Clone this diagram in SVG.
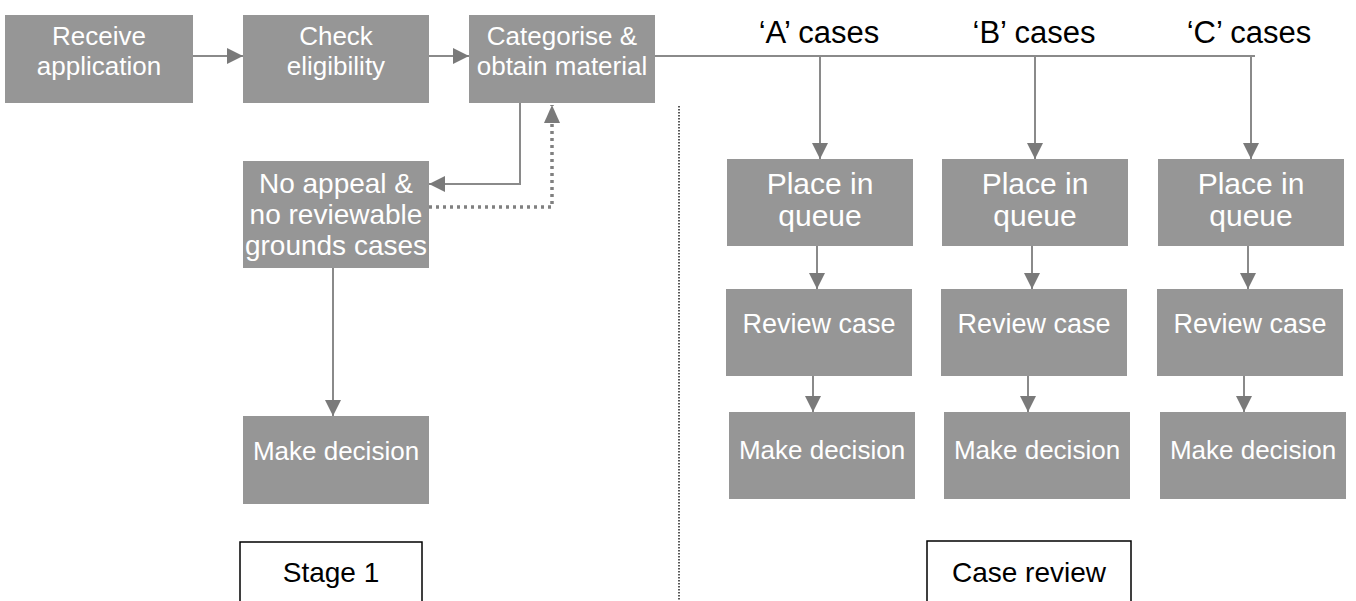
<svg xmlns="http://www.w3.org/2000/svg" width="1356" height="601" viewBox="0 0 1356 601">
<style>
.box{fill:#969696;}
.t{font-family:"Liberation Sans",Arial,sans-serif;fill:#ffffff;text-anchor:middle;}
.lbl{font-family:"Liberation Sans",Arial,sans-serif;fill:#000000;text-anchor:middle;}
.c{fill:none;stroke:#8a8a8a;stroke-width:2;}
.dot{fill:none;stroke:#808080;stroke-width:3.5;stroke-dasharray:3 4;}
.stage{fill:#ffffff;stroke:#000000;stroke-width:1.5;}
</style>
<defs>
<marker id="ah" viewBox="0 0 16 16" refX="16" refY="8" markerWidth="16" markerHeight="16" markerUnits="userSpaceOnUse" orient="auto">
<path d="M0,0 L16,8 L0,16 z" fill="#7a7a7a"/>
</marker>
<marker id="ahd" viewBox="0 0 18 16" refX="18" refY="8" markerWidth="18" markerHeight="16" markerUnits="userSpaceOnUse" orient="auto">
<path d="M0,0 L18,8 L0,16 z" fill="#7a7a7a"/>
</marker>
</defs>

<g id="connectors">
<line class="c" x1="193" y1="56" x2="243" y2="56" marker-end="url(#ah)"/>
<line class="c" x1="429" y1="56" x2="469" y2="56" marker-end="url(#ah)"/>
<path class="c" d="M520,103 V184 H429" marker-end="url(#ah)"/>
<path class="dot" d="M429,207 H552 V105" marker-end="url(#ahd)"/>
<line class="c" x1="333" y1="268" x2="333" y2="416" marker-end="url(#ah)"/>
<line class="c" x1="655" y1="56" x2="1255" y2="56"/>
<line class="c" x1="820" y1="56" x2="820" y2="159" marker-end="url(#ah)"/>
<line class="c" x1="1035" y1="56" x2="1035" y2="159" marker-end="url(#ah)"/>
<line class="c" x1="1251" y1="56" x2="1251" y2="159" marker-end="url(#ah)"/>
<line class="c" x1="817" y1="246" x2="817" y2="289" marker-end="url(#ah)"/>
<line class="c" x1="1032" y1="246" x2="1032" y2="289" marker-end="url(#ah)"/>
<line class="c" x1="1248" y1="246" x2="1248" y2="289" marker-end="url(#ah)"/>
<line class="c" x1="813" y1="376" x2="813" y2="412" marker-end="url(#ah)"/>
<line class="c" x1="1028" y1="376" x2="1028" y2="412" marker-end="url(#ah)"/>
<line class="c" x1="1244" y1="376" x2="1244" y2="412" marker-end="url(#ah)"/>
</g>

<line id="divider" x1="679" y1="106" x2="679" y2="601" stroke="#222222" stroke-width="1.5" stroke-dasharray="1.5 1.5"/>

<g id="receive">
<rect class="box" x="5" y="15" width="188" height="88"/>
<text class="t" font-size="26" x="99" y="45">Receive</text>
<text class="t" font-size="26" x="99" y="75">application</text>
</g>
<g id="check">
<rect class="box" x="243" y="15" width="186" height="88"/>
<text class="t" font-size="26" x="336" y="45">Check</text>
<text class="t" font-size="26" x="336" y="75">eligibility</text>
</g>
<g id="categorise">
<rect class="box" x="469" y="15" width="186" height="88"/>
<text class="t" font-size="26" x="562" y="45">Categorise &amp;</text>
<text class="t" font-size="26" x="562" y="75">obtain material</text>
</g>
<g id="noappeal">
<rect class="box" x="243" y="161" width="186" height="107"/>
<text class="t" font-size="28" x="336" y="193">No appeal &amp;</text>
<text class="t" font-size="28" x="336" y="224">no reviewable</text>
<text class="t" font-size="28" x="336" y="255">grounds cases</text>
</g>
<g id="make1">
<rect class="box" x="243" y="416" width="186" height="88"/>
<text class="t" font-size="26" x="336" y="460">Make decision</text>
</g>
<g id="stage1">
<rect class="stage" x="240" y="542" width="182" height="70"/>
<text class="lbl" font-size="28" x="331" y="582">Stage 1</text>
</g>

<g id="labelA"><text class="lbl" font-size="31" x="819" y="43">‘A’ cases</text></g>
<g id="labelB"><text class="lbl" font-size="31" x="1034" y="43">‘B’ cases</text></g>
<g id="labelC"><text class="lbl" font-size="31" x="1249" y="43">‘C’ cases</text></g>

<g id="placeA">
<rect class="box" x="727" y="159" width="186" height="87"/>
<text class="t" font-size="30" x="820" y="194">Place in</text>
<text class="t" font-size="30" x="820" y="226">queue</text>
</g>
<g id="placeB">
<rect class="box" x="942" y="159" width="186" height="87"/>
<text class="t" font-size="30" x="1035" y="194">Place in</text>
<text class="t" font-size="30" x="1035" y="226">queue</text>
</g>
<g id="placeC">
<rect class="box" x="1158" y="159" width="186" height="87"/>
<text class="t" font-size="30" x="1251" y="194">Place in</text>
<text class="t" font-size="30" x="1251" y="226">queue</text>
</g>

<g id="reviewA">
<rect class="box" x="726" y="289" width="186" height="87"/>
<text class="t" font-size="27" x="819" y="333">Review case</text>
</g>
<g id="reviewB">
<rect class="box" x="941" y="289" width="186" height="87"/>
<text class="t" font-size="27" x="1034" y="333">Review case</text>
</g>
<g id="reviewC">
<rect class="box" x="1157" y="289" width="186" height="87"/>
<text class="t" font-size="27" x="1250" y="333">Review case</text>
</g>

<g id="makeA">
<rect class="box" x="729" y="412" width="186" height="87"/>
<text class="t" font-size="26" x="822" y="459">Make decision</text>
</g>
<g id="makeB">
<rect class="box" x="944" y="412" width="186" height="87"/>
<text class="t" font-size="26" x="1037" y="459">Make decision</text>
</g>
<g id="makeC">
<rect class="box" x="1160" y="412" width="186" height="87"/>
<text class="t" font-size="26" x="1253" y="459">Make decision</text>
</g>

<g id="casereview">
<rect class="stage" x="927" y="541" width="204" height="70"/>
<text class="lbl" font-size="28" x="1029" y="582">Case review</text>
</g>
</svg>
